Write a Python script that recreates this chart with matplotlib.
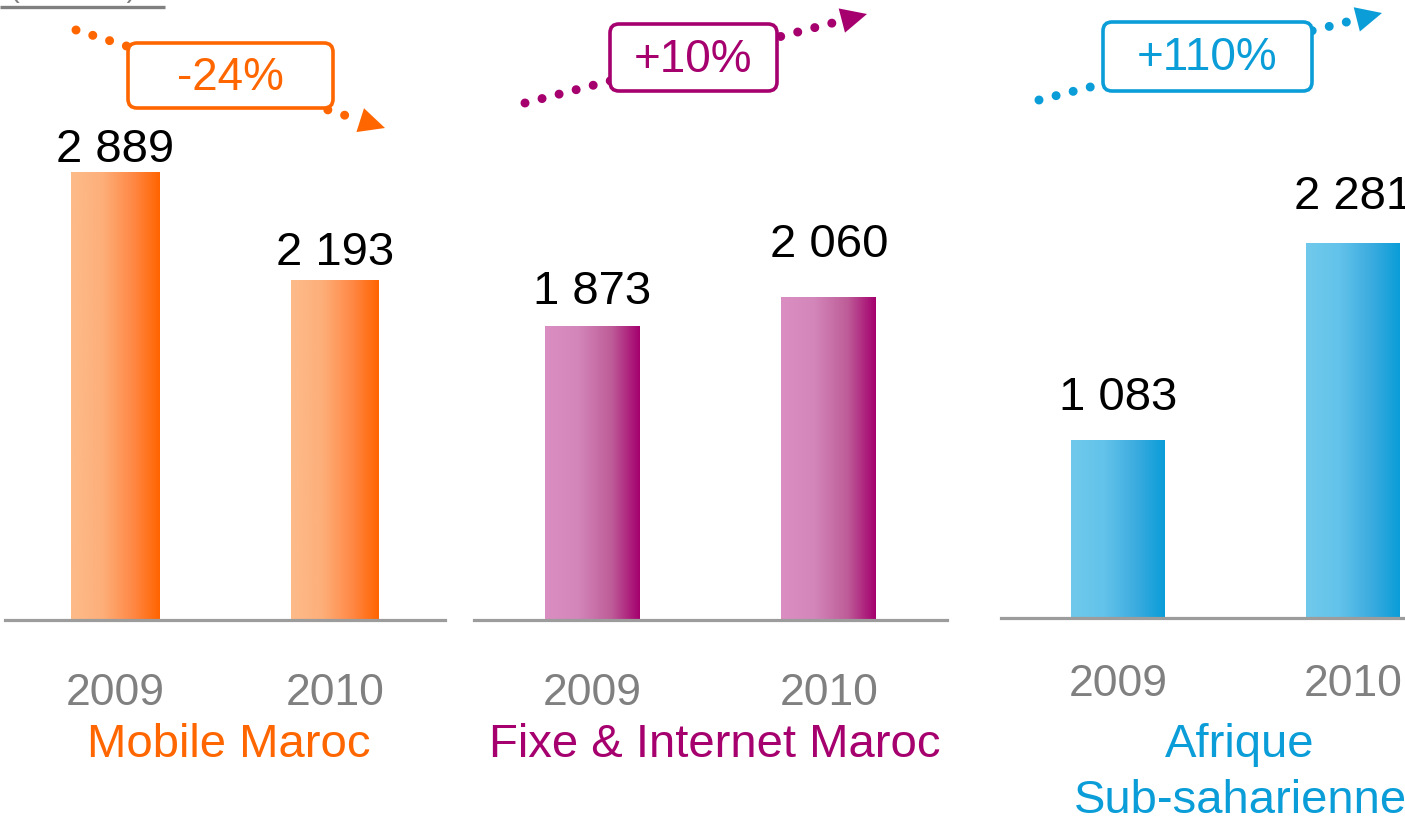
import matplotlib
matplotlib.use('Agg')
import matplotlib.pyplot as plt
import numpy as np
from matplotlib.colors import LinearSegmentedColormap
from matplotlib.patches import FancyBboxPatch, Polygon

plt.rcParams['font.family'] = ['Liberation Sans', 'DejaVu Sans']

# ---------------- data ----------------
segments = ['Mobile Maroc', 'Fixe & Internet Maroc', 'Afrique\nSub-saharienne']
years = ['2009', '2010']
mobile_maroc = [2889, 2193]
fixe_internet = [1873, 2060]
afrique = [1083, 2281]
growth_labels = ['-24%', '+10%', '+110%']
unit_label = '(en MDH)'

# ---------------- style ----------------
W, H = 1405, 818
fig = plt.figure(figsize=(W / 100, H / 100), dpi=100)
fig.patch.set_facecolor('white')

panels = [
    dict(values=mobile_maroc, left=5, right=445, base=620, ymax=4000,
         text='#FF6600', stops=['#FDBB8A', '#FDAF7A', '#FF8845', '#FF6400'],
         label_gap=[0, 5], year_pad=53, name_xy=(229, 757),
         line=((76, 30), (385, 128)), box=(128, 43, 333, 108)),
    dict(values=fixe_internet, left=474, right=947, base=620, ymax=3949,
         text='#A5006E', stops=['#DA8EC1', '#D386BA', '#BE5D99', '#A4006D'],
         label_gap=[12, 30], year_pad=53, name_xy=(715, 757),
         line=((525, 103), (867, 14)), box=(610, 24, 777, 91)),
    dict(values=afrique, left=1001, right=1470, base=618, ymax=3755,
         text='#0A9DD8', stops=['#70C9EC', '#63C3EA', '#3BABDF', '#0A9DD8'],
         label_gap=[20, 24], year_pad=46, name_xy=(1240, 757),
         line=((1039, 100), (1382, 13)), box=(1103, 22, 1312, 91)),
]

grad = np.linspace(0, 1, 256).reshape(1, -1)

for p in panels:
    ax = fig.add_axes([p['left'] / W, (H - p['base']) / H,
                       (p['right'] - p['left']) / W, p['base'] / H])
    ax.patch.set_alpha(0)
    cmap = LinearSegmentedColormap.from_list('g', list(zip([0, 0.35, 0.7, 1.0], p['stops'])))
    bars = ax.bar(range(len(years)), p['values'], width=0.4, color='none', edgecolor='none')
    for bar in bars:
        x0, w, h = bar.get_x(), bar.get_width(), bar.get_height()
        im = ax.imshow(grad, cmap=cmap, extent=(x0, x0 + w, 0, h), aspect='auto', zorder=2)
        im.set_clip_path(bar)
    for i, (bar, v) in enumerate(zip(bars, p['values'])):
        ax.annotate(f"{v:,}".replace(',', ' '), xy=(bar.get_x() + bar.get_width() / 2, v),
                    xytext=(0, p['label_gap'][i] * 0.72), textcoords='offset points',
                    ha='center', va='bottom', fontsize=34, color='black')
    ax.set_xlim(-0.5, 1.5)
    ax.set_ylim(0, p['ymax'])
    ax.set_xticks(range(len(years)), years)
    ax.tick_params(axis='x', length=0, pad=p['year_pad'] * 0.72, labelsize=32, labelcolor='#808080')
    ax.set_yticks([])
    for s in ['top', 'left', 'right']:
        ax.spines[s].set_visible(False)
    ax.spines['bottom'].set_color('#9C9C9C')
    ax.spines['bottom'].set_linewidth(2.3)
    ax.spines['bottom'].set_zorder(3)

# overlay in pixel coordinates for decorations
ov = fig.add_axes([0, 0, 1, 1])
ov.set_xlim(0, W)
ov.set_ylim(H, 0)
ov.axis('off')
ov.patch.set_alpha(0)

for p, seg, g in zip(panels, segments, growth_labels):
    c = p['text']
    (xs, ys), (xt, yt) = p['line']
    d = np.array([xt - xs, yt - ys], float)
    L = np.hypot(*d)
    u = d / L
    n = np.array([-u[1], u[0]])
    head = 26
    base = np.array([xt, yt]) - u * head
    ov.plot([xs, base[0]], [ys, base[1]], color=c, lw=6.5,
            linestyle=(0, (0.001, 1.95)), dash_capstyle='round', zorder=2)
    tri = Polygon([[xt, yt], base + n * 12.5, base - n * 12.5], closed=True,
                  facecolor=c, edgecolor='none', zorder=3)
    ov.add_patch(tri)
    bx0, by0, bx1, by1 = p['box']
    box = FancyBboxPatch((bx0, by0), bx1 - bx0, by1 - by0,
                         boxstyle='round,pad=0,rounding_size=9',
                         facecolor='white', edgecolor=c, lw=2.6, zorder=4)
    ov.add_patch(box)
    ov.text((bx0 + bx1) / 2, (by0 + by1) / 2 + 2, g, ha='center', va='center',
            fontsize=33, color=c, zorder=5)
    nx, ny = p['name_xy']
    for k, line in enumerate(seg.split('\n')):
        ov.text(nx, ny + k * 56, line, ha='center', va='baseline', fontsize=34, color=c)

# clipped unit label at top-left
ov.text(10, -3, unit_label, ha='left', va='baseline', fontsize=21, color='#808080')
ov.plot([0, 165], [7, 7], color='#808080', lw=2.4, solid_capstyle='butt')

fig.savefig('out.png', dpi=100)
